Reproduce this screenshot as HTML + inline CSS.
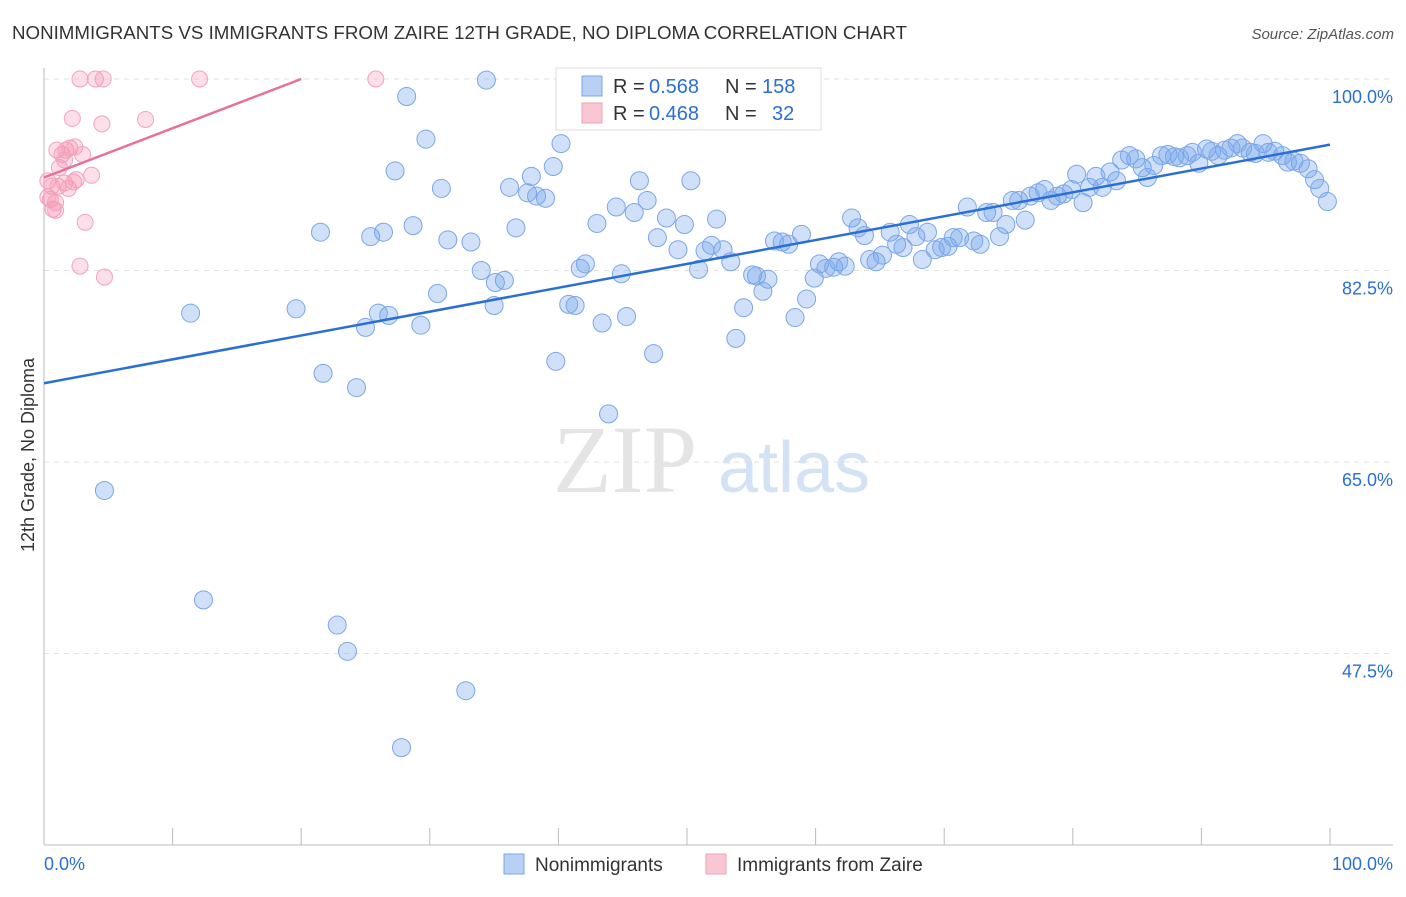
<!DOCTYPE html>
<html><head><meta charset="utf-8"><style>
body{margin:0;background:#fff;font-family:"Liberation Sans",sans-serif}
</style></head><body>
<svg id="chart" width="1406" height="892" font-family="Liberation Sans, sans-serif">
<text x="12" y="39" font-size="18" fill="#333" textLength="895" lengthAdjust="spacingAndGlyphs">NONIMMIGRANTS VS IMMIGRANTS FROM ZAIRE 12TH GRADE, NO DIPLOMA CORRELATION CHART</text>
<text x="1394" y="39" font-size="15" fill="#555" text-anchor="end" font-style="italic">Source: ZipAtlas.com</text>
<text x="0" y="0" font-size="18" fill="#333" text-anchor="middle" transform="translate(34,455) rotate(-90)">12th Grade, No Diploma</text>
<g><text x="553" y="492" font-size="96" fill="#e4e4e4" style="font-family:'Liberation Serif',serif">ZIP</text><text x="718" y="492" font-size="72" fill="#d3e2f5">atlas</text></g>
<g id="grid"></g><g id="axes"></g><g id="pink"></g><g id="blue"></g><g id="lines"></g>
<g>
<rect x="556" y="68" width="265" height="62" fill="#fff" stroke="#ddd"/>
<rect x="582" y="76" width="20" height="20" fill="#b7d0f3" stroke="#7aa6e8"/>
<text x="613" y="93" font-size="20" fill="#333">R =</text><text x="649" y="93" font-size="20" fill="#2a6fd6">0.568</text>
<text x="725" y="93" font-size="20" fill="#333">N =</text><text x="762" y="93" font-size="20" fill="#2a6fd6">158</text>
<rect x="582" y="103" width="20" height="20" fill="#f9c6d4" stroke="#f0a0b8"/>
<text x="613" y="120" font-size="20" fill="#333">R =</text><text x="649" y="120" font-size="20" fill="#2a6fd6">0.468</text>
<text x="725" y="120" font-size="20" fill="#333">N =</text><text x="772" y="120" font-size="20" fill="#2a6fd6">32</text>
</g>
<g>
<rect x="504" y="854" width="20" height="20" fill="#b7d0f3" stroke="#7aa6e8"/>
<text x="535" y="871" font-size="19" fill="#333">Nonimmigrants</text>
<rect x="706" y="854" width="20" height="20" fill="#f9c6d4" stroke="#f0a0b8"/>
<text x="737" y="871" font-size="19" fill="#333">Immigrants from Zaire</text>
</g>
</svg>
<script>
const yTicks=[100,82.5,65,47.5];
const xTickCount=10;
const blueX=[4.7,11.4,12.4,19.6,21.5,21.7,22.8,23.6,24.3,25.0,25.4,26.0,26.4,26.8,27.3,27.8,28.2,28.7,29.3,29.7,30.6,30.9,31.4,32.8,33.2,34.0,34.4,35.0,35.1,35.8,36.2,36.7,37.6,37.9,38.3,39.0,39.6,39.8,40.2,40.8,41.3,41.7,42.1,43.0,43.4,43.9,44.5,44.9,45.3,45.9,46.3,46.9,47.4,47.7,48.4,49.3,49.8,50.3,50.9,51.4,51.9,52.3,52.8,53.4,53.8,54.4,55.1,55.4,55.9,56.3,56.8,57.4,57.9,58.4,58.9,59.3,59.9,60.3,60.8,61.4,61.8,62.3,62.8,63.3,63.8,64.2,64.7,65.2,65.8,66.3,66.8,67.3,67.8,68.3,68.7,69.3,69.8,70.3,70.7,71.2,71.8,72.3,72.8,73.3,73.8,74.3,74.8,75.3,75.8,76.3,76.7,77.3,77.8,78.3,78.8,79.3,79.9,80.3,80.8,81.3,81.8,82.3,82.9,83.4,83.8,84.4,84.9,85.4,85.8,86.3,86.9,87.4,87.9,88.3,88.9,89.3,89.8,90.4,90.8,91.3,91.8,92.3,92.8,93.2,93.8,94.2,94.8,95.2,95.7,96.3,96.7,97.2,97.7,98.3,98.8,99.2,99.8];
const blueY=[62.4,78.6,52.4,79.0,86.0,73.1,50.1,47.7,71.8,77.3,85.6,78.6,86.0,78.4,91.6,38.9,98.4,86.6,77.5,94.5,80.4,90.0,85.3,44.1,85.1,82.5,99.9,79.3,81.4,81.6,90.1,86.4,89.6,91.1,89.3,89.1,92.0,74.2,94.1,79.4,79.3,82.7,83.1,86.8,77.7,69.4,88.3,82.2,78.3,87.8,90.7,88.9,74.9,85.5,87.3,84.4,86.7,90.7,82.6,84.3,84.8,87.2,84.4,83.3,76.3,79.1,82.1,82.0,80.6,81.7,85.2,85.1,84.9,78.2,85.8,79.9,81.8,83.1,82.7,82.8,83.3,82.9,87.3,86.4,85.7,83.5,83.3,83.9,86.0,84.9,84.6,86.7,85.6,83.5,86.0,84.4,84.6,84.7,85.5,85.5,88.3,85.2,84.9,87.8,87.8,85.6,86.7,88.9,88.9,87.1,89.3,89.6,89.9,88.9,89.3,89.5,89.9,91.3,88.7,90.1,91.1,90.1,91.5,90.7,92.6,93.0,92.7,91.9,91.0,92.1,93.0,93.1,92.9,92.8,93.0,93.3,92.3,93.6,93.4,93.0,93.5,93.7,94.1,93.7,93.3,93.2,94.1,93.3,93.4,93.0,92.4,92.5,92.3,91.8,90.8,90.0,88.8];
const pinkX=[0.3,0.5,0.6,0.7,0.9,0.9,1.0,1.1,1.2,1.4,1.6,1.7,1.9,2.0,2.2,2.3,2.4,2.5,2.8,2.8,3.0,3.2,3.7,4.0,4.6,4.5,4.7,7.9,12.1,25.8,0.3,1.6];
const pinkY=[90.7,89.0,90.2,88.1,88.7,88.0,93.5,90.2,91.9,93.1,90.5,93.5,90.0,93.7,96.4,90.6,93.8,90.8,100,82.9,93.1,86.9,91.2,100,100,95.9,81.9,96.3,100,100,89.2,92.6];
const blueTrend=[[0,72.2],[100,94.0]];
const pinkTrend=[[0,91.0],[20,100]];
const X=v=>44+v*12.86, Y=v=>79+(100-v)*10.943;
const NS='http://www.w3.org/2000/svg';
function mk(tag,attrs,parent){const e=document.createElementNS(NS,tag);for(const k in attrs)e.setAttribute(k,attrs[k]);document.getElementById(parent).appendChild(e);return e;}
yTicks.forEach(t=>{
 const g=mk('line',{x1:44,x2:1393,y1:Y(t),y2:Y(t),stroke:'#e2e2e2','stroke-dasharray':'5,5'},'grid');
 
 
 const l=mk('text',{x:1393,y:Y(t)+24,'font-size':18,fill:'#2a6fd6','text-anchor':'end'},'grid');
 l.textContent=t.toFixed(1)+'%';
 
 
});
const ax=mk('line',{x1:44,x2:44,y1:68,y2:845,stroke:'#bbb'},'axes');


const bx=mk('line',{x1:44,x2:1393,y1:845,y2:845,stroke:'#bbb'},'axes');


for(let i=1;i<=xTickCount;i++){const t=mk('line',{x1:X(i*10),x2:X(i*10),y1:828,y2:845,stroke:'#bbb'},'axes');
 
 }
[['0.0%',44,'start'],['100.0%',1393,'end']].forEach(([s,x,a])=>{const t=mk('text',{x:x,y:870,'font-size':18,fill:'#2a6fd6','text-anchor':a},'axes');t.textContent=s;
 
 });
pinkX.forEach((v,i)=>{const c=mk('circle',{cx:X(v),cy:Y(pinkY[i]),r:8,fill:'rgba(244,150,180,0.3)',stroke:'#f2a3bb','stroke-width':1},'pink');
 
 });
blueX.forEach((v,i)=>{const c=mk('circle',{cx:X(v),cy:Y(blueY[i]),r:9,fill:'rgba(120,165,235,0.35)',stroke:'#7aa6e8','stroke-width':1},'blue');
 
 });
const bl=mk('line',{x1:X(blueTrend[0][0]),y1:Y(blueTrend[0][1]),x2:X(blueTrend[1][0]),y2:Y(blueTrend[1][1]),stroke:'#2a6fd6','stroke-width':2.5},'lines');


const pl=mk('line',{x1:X(pinkTrend[0][0]),y1:Y(pinkTrend[0][1]),x2:X(pinkTrend[1][0]),y2:Y(pinkTrend[1][1]),stroke:'#e8709a','stroke-width':2.5},'lines');


</script>
</body></html>
